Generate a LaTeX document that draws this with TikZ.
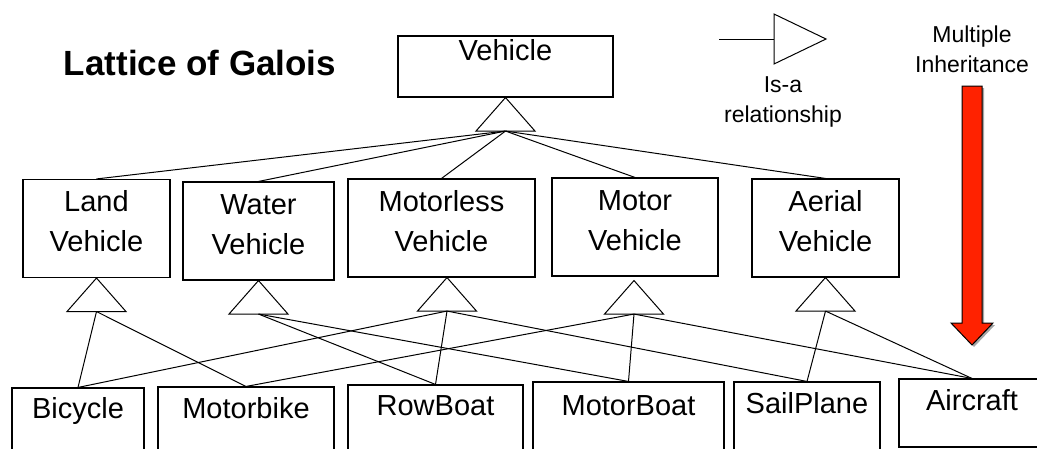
\documentclass[tikz,border=0pt]{standalone}
\usepackage{fontspec}
\setmainfont{Liberation Sans}
\usetikzlibrary{calc}

\definecolor{inhred}{RGB}{255,34,0}

\begin{document}
\begin{tikzpicture}[x=1pt, y=-1pt,
    box/.style={draw, line width=1.1pt, inner sep=0pt, anchor=base, align=center,
        font=\fontsize{29}{40}\selectfont},
    link/.style={line width=1pt},
    note/.style={align=center, anchor=base, font=\fontsize{23}{30}\selectfont}]
    \useasboundingbox (0,0) rectangle (1037,448);
    \clip (0,0) rectangle (1037,448);

    % Title
    \node[anchor=base, font=\fontsize{35}{40}\selectfont\bfseries] (title) at (200,75) {Lattice of Galois};

    % Root
    \node[box, minimum width=215pt, text height=24pt, text depth=37pt] (vehicle) at (505.5,60) {Vehicle};

    % Second level
    \foreach \n/\x/\y/\w/\t in {land/96.5/251.5/147pt/Land\\Vehicle, water/258.5/254/151pt/Water\\Vehicle,
                                motorless/441.5/251/187pt/Motorless\\Vehicle, motor/635/250/166pt/Motor\\Vehicle,
                                aerial/825.5/251/147pt/Aerial\\Vehicle} {
        \node[box, minimum width=\w, text height=72pt, text depth=26pt] (\n) at (\x,\y) {\t};
    }

    % Third level
    \foreach \n/\x/\y/\w/\h/\t in {bicycle/78/418/132pt/30pt/Bicycle, motorbike/246/418/176pt/31pt/Motorbike,
                                   rowboat/435.5/415/175pt/30pt/RowBoat, motorboat/628.5/415/191pt/33pt/MotorBoat,
                                   sailplane/807/413/146pt/31pt/SailPlane, aircraft/972/410/146pt/31pt/Aircraft} {
        \node[box, minimum width=\w, text height=\h, text depth=37pt] (\n) at (\x,\y) {\t};
    }

    % Is-a triangles
    \foreach \n/\dx/\dy in {vehicle/0/0, land/0/0, water/0/0, motorless/5.5/0, motor/-1/4, aerial/0/0} {
        \draw[link, fill=white] ($(\n.south)+(\dx,\dy)$) coordinate (\n-top)
            -- ++(-29.5,33.5) -- ++(59,0) -- cycle;
        \coordinate (\n-isa) at ($(\n-top)+(0,33.5)$);
    }

    % Links
    \foreach \a/\b in {vehicle/land, vehicle/water, vehicle/motorless, vehicle/motor, vehicle/aerial,
                       land/bicycle, land/motorbike, water/rowboat, water/motorboat,
                       motorless/bicycle, motorless/rowboat, motorless/sailplane,
                       motor/motorbike, motor/motorboat, motor/aircraft,
                       aerial/sailplane, aerial/aircraft} {
        \draw[link] (\a-isa) -- (\b.north);
    }

    % Legend
    \coordinate (legend-tail) at (719,39);
    \coordinate (legend-head) at (774,39);
    \draw[link] (legend-tail) -- (legend-head);
    \draw[link] ($(legend-head)+(0,-25)$) -- (826,39) -- ($(legend-head)+(0,25)$) -- cycle;
    \node[note] (legend-text) at (783,122) {Is-a\\relationship};

    % Multiple inheritance
    \node[note] (multi) at (972,72) {Multiple\\Inheritance};
    \fill[gray!70] (964,88) -- (984,88) -- (984,325) -- (995,325) -- (974,347) -- (953,325) -- (964,325) -- cycle;
    \filldraw[fill=inhred, draw=black, line width=1pt] (962,86) -- (982,86) -- (982,323) -- (993,323)
        -- (972,345) -- (951,323) -- (962,323) -- cycle;
\end{tikzpicture}
\end{document}
